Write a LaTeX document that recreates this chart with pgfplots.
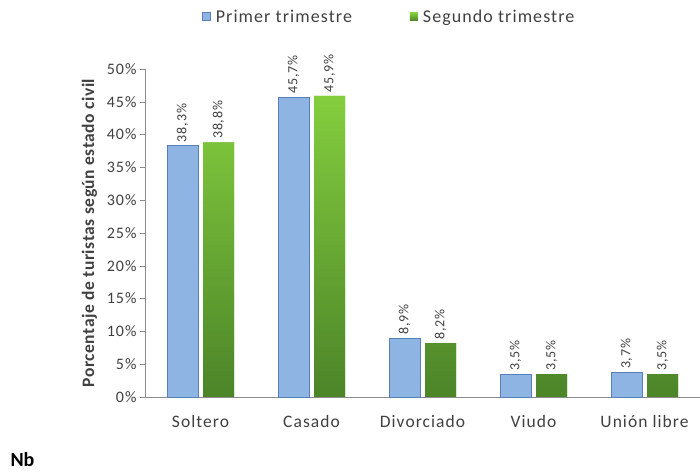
\documentclass[border=0pt]{standalone}
\usepackage{fontspec}
\setmainfont{Carlito}
\newfontfamily\wide[LetterSpace=6]{Carlito}
\newfontfamily\wideb[LetterSpace=3]{Carlito}
\usepackage{pgfplots}
\pgfplotsset{compat=1.18}
\definecolor{barblue}{HTML}{8DB4E2}
\definecolor{blueedge}{HTML}{5A7EB8}
\definecolor{gtop}{HTML}{84CE3E}
\definecolor{gbot}{HTML}{4C8429}
\definecolor{txtgray}{HTML}{404040}
\definecolor{axgray}{HTML}{8C8C8C}
\begin{document}
\begin{tikzpicture}
\useasboundingbox (0,0) rectangle (700pt,473pt);
\begin{axis}[
  at={(145pt,76pt)}, anchor=south west,
  scale only axis, width=555pt, height=328pt,
  xmin=-0.5, xmax=4.5, ymin=0, ymax=50,
  ybar=5pt, bar width=31pt,
  clip=false,
  axis x line*=bottom, axis y line*=left,
  axis line style={axgray,-},
  xtick={0,1,2,3,4},
  xticklabels={Soltero,Casado,Divorciado,Viudo,Unión libre},
  x tick style={draw=none},
  ytick={0,5,...,50},
  y tick style={axgray},
  tick align=outside, major tick length=5pt,
  yticklabel={\pgfmathprintnumber{\tick}\%},
  /pgf/number format/assume math mode=true,
  yticklabel style={font=\wide\fontsize{16}{16}\selectfont, text=txtgray},
  xticklabel style={yshift=-10pt, font=\wide\fontsize{17.5}{17.5}\selectfont, text=txtgray},
  ylabel={Porcentaje de turistas según estado civil},
  ylabel style={at={(axis description cs:-0.1,0.5)}, anchor=center, font=\wideb\bfseries\fontsize{17.5}{17.5}\selectfont, text=txtgray},
  nodes near coords={\pgfmathprintnumber[fixed,fixed zerofill,precision=1,use comma]{\pgfplotspointmeta}\%},
  every node near coord/.append style={rotate=90, anchor=west, font=\wide\fontsize{14}{14}\selectfont, text=txtgray, /pgf/number format/assume math mode=true},
  legend style={at={(0.44,1.159)}, anchor=center, legend columns=2, draw=none, fill=none,
    font=\wide\fontsize{18}{18}\selectfont, text=txtgray,
    /tikz/every even column/.append style={column sep=56pt}},
  legend image code/.code={\fill[#1] (0pt,-4pt) rectangle (8pt,4pt); \path (11pt,0pt);},
]
\addplot[fill=barblue, draw=blueedge, line width=0.8pt] coordinates {(0,38.3) (1,45.7) (2,8.9) (3,3.5) (4,3.7)};
\addlegendentry{Primer trimestre}
\addplot[draw=none, top color=gtop, bottom color=gbot, fill=gtop!80!gbot] coordinates {(0,38.8) (1,45.9) (2,8.2) (3,3.5) (4,3.5)};
\addlegendentry{Segundo trimestre}
\end{axis}
\node[anchor=west, font=\bfseries\fontsize{20}{20}\selectfont] at (7pt,13pt) {Nb};
\end{tikzpicture}
\end{document}
